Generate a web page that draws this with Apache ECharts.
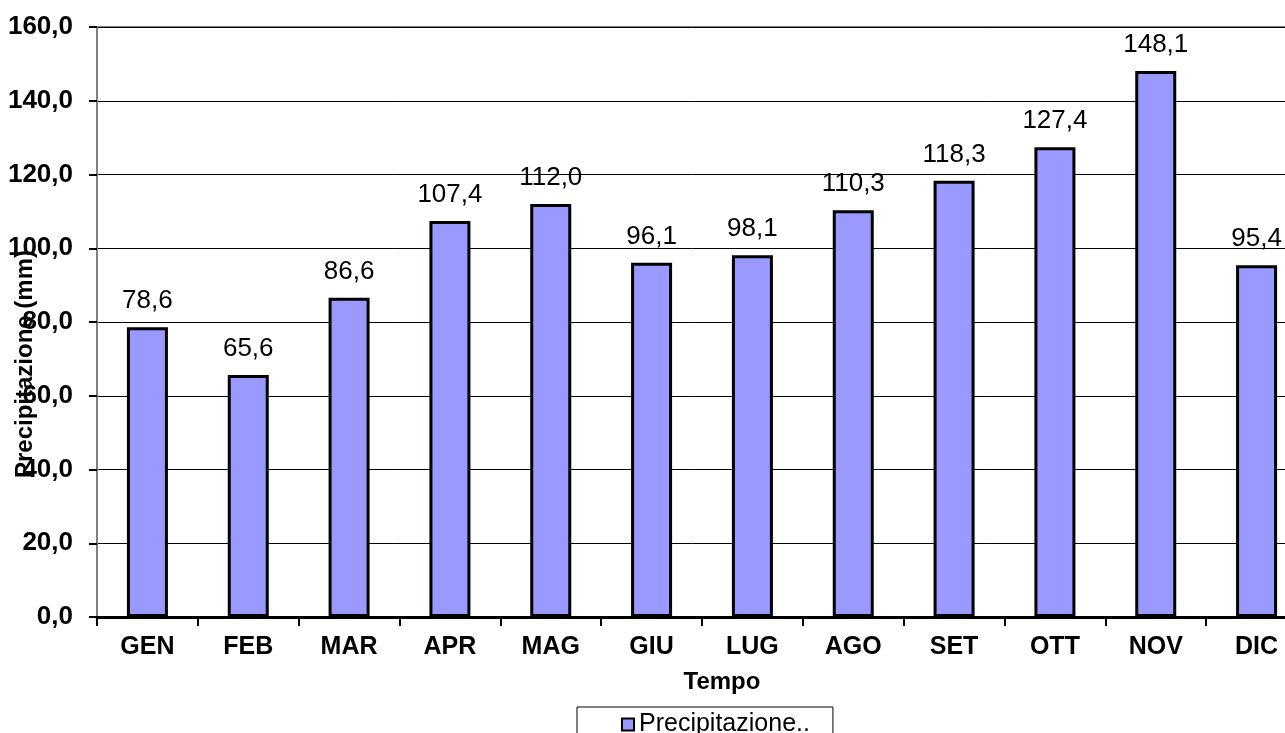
<!DOCTYPE html>
<html>
<head>
<meta charset="utf-8">
<script src="https://cdn.jsdelivr.net/npm/echarts@6/dist/echarts.min.js"></script>
<style>
html,body{margin:0;padding:0;background:#fff;}
#chart{width:1285px;height:733px;}
</style>
</head>
<body>
<div id="chart"></div>
<script>
const categories = ['GEN','FEB','MAR','APR','MAG','GIU','LUG','AGO','SET','OTT','NOV','DIC'];
const precipitazione = [78.6, 65.6, 86.6, 107.4, 112.0, 96.1, 98.1, 110.3, 118.3, 127.4, 148.1, 95.4];
const seriesName = 'Precipitazione..';
const xTitle = 'Tempo';
const yTitle = 'Precipitazione (mm)';

const FONT = '"Liberation Sans", Arial, sans-serif';
const fmt = v => Number(v).toFixed(1).replace('.', ',');

const chart = echarts.init(document.getElementById('chart'), null, {renderer: 'canvas'});
chart.setOption({
  animation: false,
  backgroundColor: '#ffffff',
  textStyle: {fontFamily: FONT},
  grid: {
    left: 97, width: 1210, top: 27, height: 590,
    outerBoundsMode: 'none',
    containLabel: false,
    show: true, borderColor: '#808080', borderWidth: 2, backgroundColor: 'transparent'
  },
  legend: {
    data: [seriesName],
    left: 577, top: 707,
    padding: [5, 23, 10, 44],
    borderColor: '#000', borderWidth: 1,
    itemWidth: 12, itemHeight: 12,
    icon: 'rect',
    itemStyle: {borderColor: '#000', borderWidth: 2},
    textStyle: {fontFamily: FONT, fontSize: 25, color: '#000'}
  },
  xAxis: {
    type: 'category',
    data: categories,
    axisLine: {lineStyle: {color: '#000', width: 3}},
    axisTick: {show: true, length: 9, lineStyle: {color: '#000', width: 2}},
    axisLabel: {color: '#000', fontFamily: FONT, fontSize: 25, fontWeight: 'bold', margin: 18}
  },
  yAxis: {
    type: 'value',
    min: 0, max: 160, interval: 20,
    axisLine: {show: true, lineStyle: {color: '#808080', width: 2}},
    axisTick: {show: true, length: 8, lineStyle: {color: '#000', width: 2}},
    axisLabel: {color: '#000', fontFamily: FONT, fontSize: 26, fontWeight: 'bold', margin: 24, formatter: fmt},
    splitLine: {lineStyle: {color: '#000', width: 1}}
  },
  graphic: [
    {type: 'text', x: 722, y: 682,
     style: {text: xTitle, font: 'bold 24px ' + FONT, fill: '#000', align: 'center', verticalAlign: 'middle'}},
    {type: 'text', x: 25, y: 364, rotation: Math.PI / 2,
     style: {text: yTitle, font: 'bold 24px ' + FONT, fill: '#000', align: 'center', verticalAlign: 'middle'}}
  ],
  series: [{
    name: seriesName,
    type: 'bar',
    data: precipitazione,
    barWidth: 41,
    itemStyle: {color: '#9999FF', borderColor: '#000', borderWidth: 3},
    label: {
      show: true, position: 'top', distance: 13,
      color: '#000', fontFamily: FONT, fontSize: 26, formatter: p => fmt(p.value)
    }
  }]
});
</script>
</body>
</html>
